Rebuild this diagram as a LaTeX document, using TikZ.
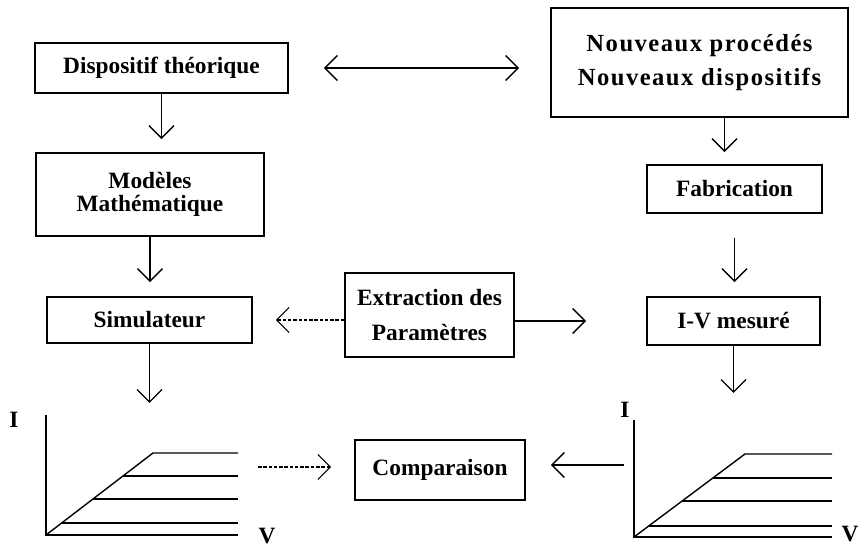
\documentclass[tikz,border=0pt]{standalone}
\usepackage{fontspec}
\setmainfont{Liberation Serif}
\usetikzlibrary{positioning, arrows.meta, calc}

\begin{document}
\begin{tikzpicture}[
    >={Straight Barb[length=2.5mm, width=5mm]},
    box/.style={draw, line width=0.9pt, align=center, inner sep=0pt,
        font=\fontsize{13.3}{16}\selectfont\bfseries},
    bigbox/.style={box, font=\fontsize{14}{17}\selectfont\bfseries\addfontfeature{LetterSpace=6}},
    flow/.style={->, line width=0.8pt},
    biflow/.style={<->, line width=0.8pt},
    dflow/.style={->, line width=0.6pt, dash pattern=on 2pt off 1pt},
    axis/.style={line width=0.9pt},
    curve/.style={line width=0.8pt},
    lbl/.style={font=\fontsize{13.3}{16}\selectfont\bfseries}
]
\useasboundingbox (0,0) rectangle (17.28,10.94);

% === BOXES ===
\node[box, minimum width=5.06cm, minimum height=1cm] (dispo) at (3.23, 9.58) {Dispositif théorique};
\node[box, minimum width=4.56cm, minimum height=1.66cm] (modeles) at (3.0, 7.05) {Modèles\\[-3pt]Mathématique};
\node[box, minimum width=4.1cm, minimum height=0.92cm] (simul) at (2.99, 4.54) {Simulateur};

\node[bigbox, minimum width=5.94cm, minimum height=2.18cm] (nouveaux) at (13.99, 9.69) {Nouveaux procédés\\[2pt]Nouveaux dispositifs};
\node[box, minimum width=3.5cm, minimum height=0.96cm] (fabric) at (14.69, 7.16) {Fabrication};
\node[box, minimum width=3.46cm, minimum height=0.96cm] (mesure) at (14.67, 4.52) {I-V mesuré};

\node[box, minimum width=3.38cm, minimum height=1.68cm] (extract) at (8.59, 4.64) {Extraction des\\[4pt]Paramètres};
\node[box, minimum width=3.4cm, minimum height=1.2cm] (compar) at (8.8, 1.54) {Comparaison};

% === LEFT I-V CURVES ===
\begin{scope}[shift={(0.92, 0.24)}]
    \draw[axis] (0, 2.4) -- (0, 0) -- (3.84, 0);
    \draw[curve] (0, 0) -- (2.14, 1.64) -- (3.84, 1.64);
    \foreach \lv in {0.24, 0.72, 1.18}
        \draw[curve] ({\lv/0.766}, \lv) -- (3.84, \lv);
    \node[lbl] (ilbl1) at (-0.64, 2.3) {I};
    \node[lbl] (vlbl1) at (4.42, -0.02) {V};
    \coordinate (c1in) at (2.1, 2.64);
    \coordinate (c1out) at (4.24, 1.36);
\end{scope}

% === RIGHT I-V CURVES ===
\begin{scope}[shift={(12.68, 0.2)}]
    \draw[axis] (0, 2.34) -- (0, 0) -- (3.96, 0);
    \draw[curve] (0, 0) -- (2.22, 1.66) -- (3.96, 1.66);
    \foreach \lv in {0.22, 0.72, 1.18}
        \draw[curve] ({\lv/0.748}, \lv) -- (3.96, \lv);
    \node[lbl] (ilbl2) at (-0.18, 2.54) {I};
    \node[lbl] (vlbl2) at (4.32, 0.06) {V};
    \coordinate (c2in) at (1.99, 2.88);
    \coordinate (c2out) at (-0.2, 1.44);
\end{scope}

% === ARROWS ===
\draw[biflow, shorten <=0.7cm, shorten >=0.62cm] (dispo.east) -- (dispo.east -| nouveaux.west);

% left column
\draw[flow, shorten >=0.26cm] (dispo.south) -- (dispo.south |- modeles.north);
\draw[flow, shorten >=0.28cm] (modeles.south) -- (modeles.south |- simul.north);
\draw[flow] (simul.south) -- (simul.south |- c1in);

% right column
\draw[flow, shorten >=0.24cm] ($(fabric.north |- nouveaux.south)+(-0.2,0)$) -- ($(fabric.north)+(-0.2,0)$);
\draw[flow, shorten <=0.48cm, shorten >=0.28cm] (fabric.south) -- (fabric.south |- mesure.north);
\draw[flow] (mesure.south) -- (mesure.south |- c2in);

% middle
\draw[dflow, shorten >=0.46cm] (extract.west |- simul.east) -- (simul.east);
\draw[flow, shorten >=1.2cm] (extract.east |- mesure.west) -- (mesure.west);
\draw[dflow, shorten >=0.46cm] (c1out) -- (c1out -| compar.west);
\draw[flow, shorten >=0.5cm] (c2out) -- (c2out -| compar.east);

\end{tikzpicture}
\end{document}
